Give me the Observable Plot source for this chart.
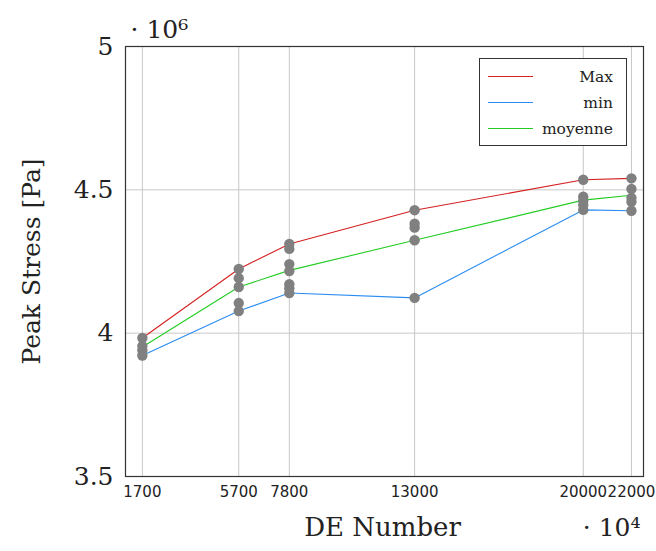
<!DOCTYPE html>
<html>
<head>
<meta charset="utf-8">
<script src="https://cdn.jsdelivr.net/npm/d3@7"></script>
<script src="https://cdn.jsdelivr.net/npm/@observablehq/plot@0.6"></script>
<style>
  html, body { margin: 0; padding: 0; background: #fff; }
  #wrap { position: relative; width: 656px; height: 551px; }
  #legend { position: absolute; left: 479px; top: 58px; }
</style>
</head>
<body>
<div id="wrap"></div>
<script>
const xTicks = [1700, 5700, 7800, 13000, 20000, 22000];
const yTicks = [3.5e6, 4e6, 4.5e6, 5e6];
const seriesNames = ["Max", "min", "moyenne"];
const seriesColors = ["#d42020", "#2a8cf0", "#22cc22"];
const maxV  = [3.983e6, 4.224e6, 4.311e6, 4.429e6, 4.535e6, 4.540e6];
const minV  = [3.922e6, 4.077e6, 4.140e6, 4.123e6, 4.430e6, 4.427e6];
const meanV = [3.952e6, 4.161e6, 4.219e6, 4.324e6, 4.464e6, 4.481e6];
const samples = [
  [3.983, 3.955, 3.940, 3.922],
  [4.224, 4.192, 4.161, 4.105, 4.077],
  [4.311, 4.294, 4.241, 4.217, 4.171, 4.157, 4.140],
  [4.429, 4.382, 4.368, 4.324, 4.123],
  [4.535, 4.476, 4.462, 4.447, 4.430],
  [4.540, 4.503, 4.472, 4.458, 4.427]
];

const lines = [];
[maxV, minV, meanV].forEach((arr, s) => arr.forEach((v, i) => lines.push({x: xTicks[i], y: v, s: seriesNames[s]})));
const dots = [];
samples.forEach((arr, i) => arr.forEach(v => dots.push({x: xTicks[i], y: v * 1e6})));

const serif = "DejaVu Serif";
const plot = Plot.plot({
  width: 656, height: 551,
  marginLeft: 125, marginRight: 13, marginTop: 46, marginBottom: 75,
  style: {fontFamily: serif, background: "#fff", overflow: "visible"},
  x: {domain: [1000, 22500]},
  y: {domain: [3.5e6, 5e6]},
  color: {domain: seriesNames, range: seriesColors},
  marks: [
    Plot.gridX(xTicks, {stroke: "#c8c8c8", strokeOpacity: 1}),
    Plot.gridY([4e6, 4.5e6], {stroke: "#c8c8c8", strokeOpacity: 1}),
    Plot.axisX(xTicks, {tickSize: 0, tickPadding: 10, fontSize: 15, fontFamily: "DejaVu Sans", tickFormat: d => String(d), label: null, fill: "#222"}),
    Plot.axisY(yTicks, {tickSize: 0, tickPadding: 12, fontSize: 25, fontFamily: serif, tickFormat: d => String(d / 1e6), label: null, fill: "#222"}),
    Plot.line(lines, {x: "x", y: "y", z: "s", stroke: "s", strokeWidth: 1.1}),
    Plot.dot(dots, {x: "x", y: "y", r: 5.2, fill: "#808080", stroke: null}),
    Plot.frame({stroke: "#333", strokeWidth: 1.2}),
    Plot.text(["DE Number"], {frameAnchor: "bottom", dx: -2, dy: 59, fontSize: 26, fontFamily: serif, fill: "#222"}),
    Plot.text(["Peak Stress [Pa]"], {frameAnchor: "left", textAnchor: "middle", dx: -94, dy: 0, rotate: -90, fontSize: 25, fontFamily: serif, fill: "#222"}),
    Plot.text(["· 10⁶"], {frameAnchor: "top-left", dx: 5, dy: -26, fontSize: 25, fontFamily: serif, fill: "#222"}),
    Plot.text(["· 10⁴"], {frameAnchor: "bottom-right", dx: -3, dy: 59, fontSize: 25, fontFamily: serif, fill: "#222"})
  ]
});
const wrap = document.getElementById("wrap");
wrap.appendChild(plot);

// legend box
const ns = "http://www.w3.org/2000/svg";
const lg = document.createElementNS(ns, "svg");
lg.setAttribute("id", "legend");
lg.setAttribute("width", 148);
lg.setAttribute("height", 88);
const box = document.createElementNS(ns, "rect");
Object.entries({x: 0.5, y: 0.5, width: 147, height: 87, fill: "#fff", stroke: "#333", "stroke-width": 1}).forEach(([k, v]) => box.setAttribute(k, v));
lg.appendChild(box);
seriesNames.forEach((n, i) => {
  const yy = 18.5 + i * 26;
  const ln = document.createElementNS(ns, "line");
  Object.entries({x1: 9, x2: 54, y1: yy, y2: yy, stroke: seriesColors[i], "stroke-width": 1.1}).forEach(([k, v]) => ln.setAttribute(k, v));
  lg.appendChild(ln);
  const t = document.createElementNS(ns, "text");
  Object.entries({x: 134, y: yy + 5, "text-anchor": "end", "font-family": serif, "font-size": 15.5, fill: "#222"}).forEach(([k, v]) => t.setAttribute(k, v));
  t.textContent = n;
  lg.appendChild(t);
});
wrap.appendChild(lg);
</script>
</body>
</html>
